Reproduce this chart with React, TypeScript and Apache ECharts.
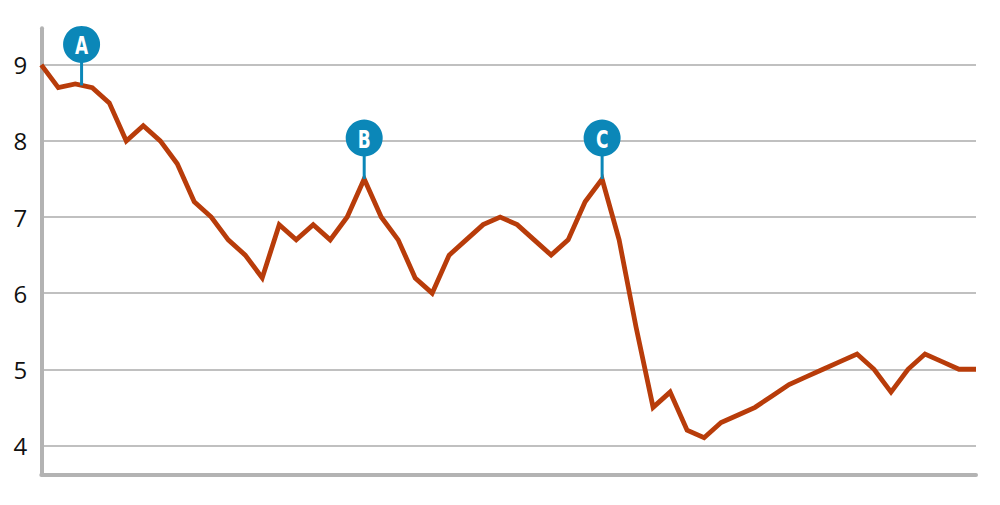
import React, { useEffect, useRef } from "react";
import * as echarts from "echarts";

// Series values (one per period, index 0..55)
const values: number[] = [
  9.0, 8.7, 8.75, 8.7, 8.5, 8.0, 8.2, 8.0, 7.7, 7.2,
  7.0, 6.7, 6.5, 6.2, 6.9, 6.7, 6.9, 6.7, 7.0, 7.5,
  7.0, 6.7, 6.2, 6.0, 6.5, 6.7, 6.9, 7.0, 6.9, 6.7,
  6.5, 6.7, 7.2, 7.5, 6.7, 5.55, 4.5, 4.7, 4.2, 4.1,
  4.3, 4.4, 4.5, 4.65, 4.8, 4.9, 5.0, 5.1, 5.2, 5.0,
  4.7, 5.0, 5.2, 5.1, 5.0, 5.0,
];

// Annotation markers (label, x position in periods, value)
const markerLabels: string[] = ["A", "B", "C"];
const markerX: number[] = [2.37, 19, 33];
const markerY: number[] = [8.73, 7.5, 7.5];

// Y-axis tick labels shown
const yTicks: number[] = [4, 5, 6, 7, 8, 9];

const LINE_COLOR = "#b83c0a";
const MARKER_COLOR = "#0b87b8";
const AXIS_COLOR = "#b3b3b3";
const GRID_COLOR = "#ababab";

export default function App() {
  const ref = useRef<HTMLDivElement>(null);

  useEffect(() => {
    if (!ref.current) return;
    const chart = echarts.init(ref.current, undefined, { renderer: "svg" });

    const lineData = values.map((v, i) => [i, v]);
    const markerData = markerLabels.map((l, i) => [markerX[i], markerY[i], l]);

    chart.setOption({
      animation: false,
      backgroundColor: "#ffffff",
      grid: { left: 41.3, right: 24, top: 28.3, bottom: 30.7, containLabel: false },
      xAxis: {
        type: "value",
        min: 0,
        max: values.length - 1,
        axisLine: { show: true, lineStyle: { color: AXIS_COLOR, width: 4 } },
        axisTick: { show: false },
        axisLabel: { show: false },
        splitLine: { show: false },
      },
      yAxis: {
        type: "value",
        min: 3.62,
        max: 9.48,
        axisLine: { show: true, lineStyle: { color: AXIS_COLOR, width: 4 } },
        axisTick: { show: false },
        axisLabel: {
          showMinLabel: false,
          showMaxLabel: false,
          margin: 14,
          color: "#111111",
          fontFamily: "Open Sans",
          fontSize: 24,
          formatter: (v: number) => (yTicks.indexOf(v) >= 0 ? String(v) : ""),
        },
        splitLine: {
          show: true,
          showMinLine: false,
          showMaxLine: false,
          lineStyle: { color: GRID_COLOR, width: 1.5 },
        },
      },
      series: [
        {
          type: "line",
          data: lineData,
          symbol: "none",
          lineStyle: { color: LINE_COLOR, width: 4.8, join: "miter" },
          z: 3,
        },
        {
          type: "custom",
          data: markerData,
          z: 4,
          renderItem: (params: any, api: any) => {
            const p = api.coord([api.value(0), api.value(1)]);
            const label = markerLabels[params.dataIndex];
            const r = 18.5;
            const cy = p[1] - 41;
            return {
              type: "group",
              children: [
                {
                  type: "line",
                  shape: { x1: p[0], y1: p[1], x2: p[0], y2: cy },
                  style: { stroke: MARKER_COLOR, lineWidth: 3 },
                },
                {
                  type: "circle",
                  shape: { cx: p[0], cy, r },
                  style: { fill: MARKER_COLOR },
                },
                {
                  type: "text",
                  x: p[0],
                  y: cy + 1,
                  scaleX: 0.68,
                  style: {
                    text: label,
                    fill: "#ffffff",
                    fontFamily: "DejaVu Sans",
                    fontWeight: "bold",
                    fontSize: 25,
                    align: "center",
                    verticalAlign: "middle",
                  },
                },
              ],
            };
          },
        },
      ],
    });

    return () => chart.dispose();
  }, []);

  return (
    <div
      ref={ref}
      style={{ position: "fixed", left: 0, top: 0, width: 1000, height: 505 }}
    />
  );
}
